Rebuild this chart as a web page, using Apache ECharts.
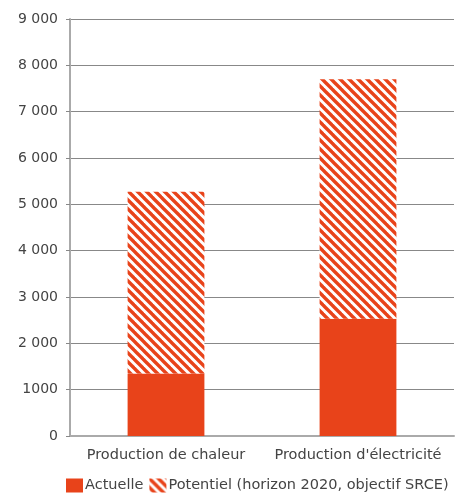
<!DOCTYPE html>
<html>
<head>
<meta charset="utf-8">
<script src="https://cdn.jsdelivr.net/npm/echarts@6/dist/echarts.min.js"></script>
<style>
  html, body { margin: 0; padding: 0; background: #fff; }
  #main { width: 463px; height: 497px; }
</style>
</head>
<body>
<div id="main"></div>
<script>
const categories = ['Production de chaleur', "Production d'électricité"];
const actuelle = [1350, 2530];
const potentiel = [3920, 5170];
const yTickLabels = ['0', '1000', '2 000', '3 000', '4 000', '5 000', '6 000', '7 000', '8 000', '9 000'];

const red = '#E8431A';

// diagonal stripes tile
function stripes() {
  const s = 9;
  const c = document.createElement('canvas');
  c.width = s; c.height = s;
  const ctx = c.getContext('2d');
  ctx.fillStyle = '#fff';
  ctx.fillRect(0, 0, s, s);
  ctx.strokeStyle = red;
  ctx.lineWidth = 3.4;
  for (let k = -1; k <= 1; k++) {
    ctx.beginPath();
    ctx.moveTo(k * s - 2, -2);
    ctx.lineTo(k * s + s + 2, s + 2);
    ctx.stroke();
  }
  return c;
}

const chart = echarts.init(document.getElementById('main'));
chart.setOption({
  animation: false,
  textStyle: { fontFamily: 'DejaVu Sans', color: '#444' },
  grid: { left: 70, right: 9, top: 19, bottom: 61 },
  legend: {
    top: 478,
    left: 66,
    padding: 0,
    icon: 'rect',
    itemWidth: 17,
    itemHeight: 14,
    itemGap: 6,
    textStyle: { fontSize: 14.5, color: '#444', padding: [0, 0, 0, -3] },
    data: ['Actuelle', 'Potentiel (horizon 2020, objectif SRCE)']
  },
  xAxis: {
    type: 'category',
    data: categories,
    axisLine: { lineStyle: { color: '#aaa', width: 2 } },
    axisTick: { length: 5, lineStyle: { color: '#aaa' } },
    axisLabel: { interval: 0, fontSize: 14.5, color: '#444', margin: 12 }
  },
  yAxis: {
    type: 'value',
    min: 0,
    max: 9000,
    interval: 1000,
    axisLine: { show: true, lineStyle: { color: '#aaa', width: 2 } },
    axisTick: { show: true, length: 4, lineStyle: { color: '#888' } },
    splitLine: { lineStyle: { color: '#888' } },
    axisLabel: {
      fontSize: 14,
      color: '#444',
      margin: 12,
      formatter: (v) => yTickLabels[Math.round(v / 1000)]
    }
  },
  series: [
    {
      name: 'Actuelle',
      type: 'bar',
      stack: 'total',
      barWidth: '40%',
      data: actuelle,
      itemStyle: { color: red }
    },
    {
      name: 'Potentiel (horizon 2020, objectif SRCE)',
      type: 'bar',
      stack: 'total',
      data: potentiel,
      itemStyle: { color: { image: stripes(), repeat: 'repeat' } }
    }
  ]
});
</script>
</body>
</html>
